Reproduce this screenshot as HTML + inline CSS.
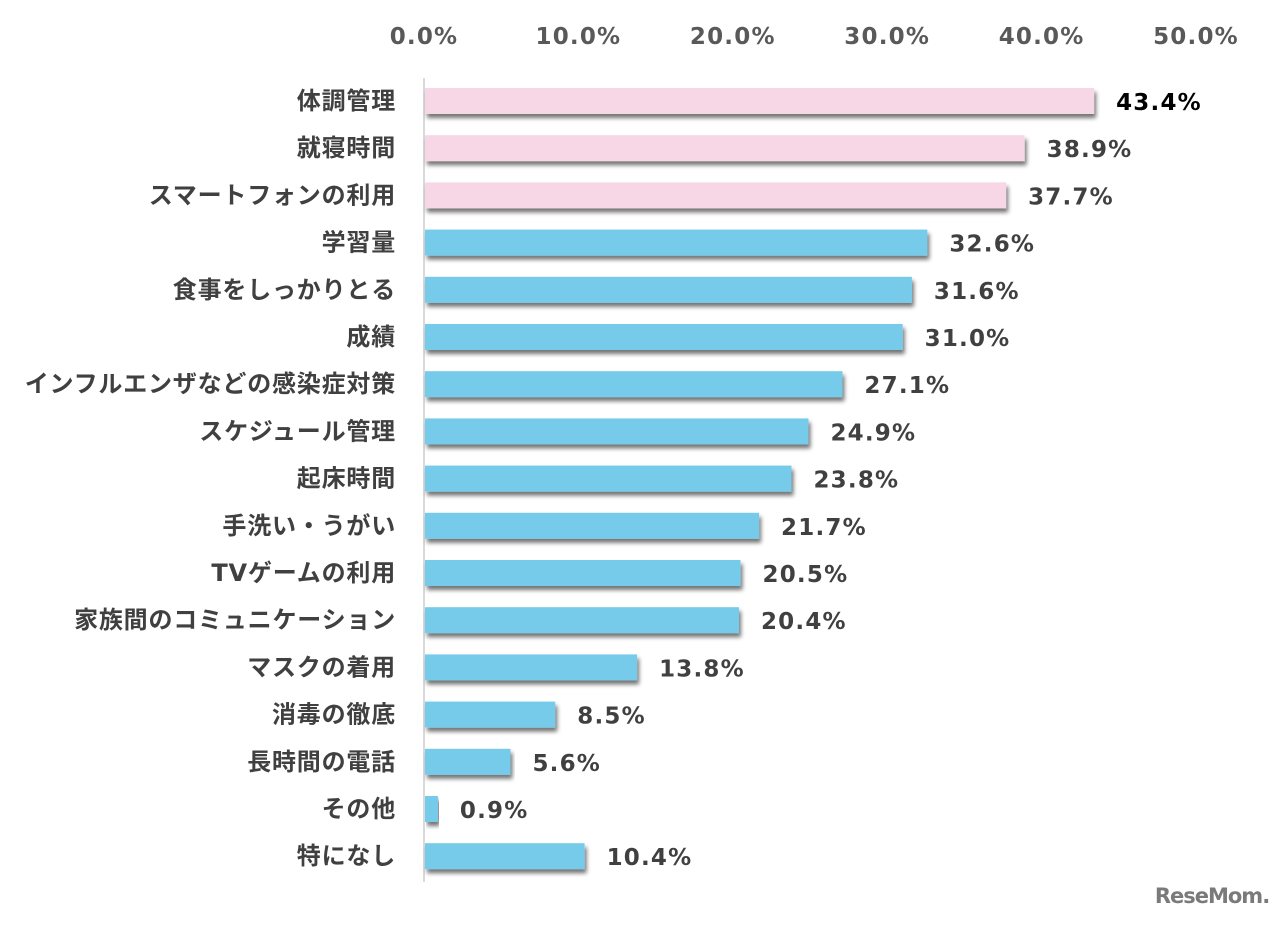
<!DOCTYPE html>
<html><head><meta charset="utf-8"><style>
body{margin:0;background:#fff;width:1280px;height:921px;overflow:hidden;font-family:"DejaVu Sans","Noto Sans CJK JP",sans-serif;}
</style></head><body>
<svg id="chart" width="1280" height="921" xmlns="http://www.w3.org/2000/svg">
<defs><filter id="sh" x="-5%" y="-50%" width="110%" height="200%"><feGaussianBlur in="SourceAlpha" stdDeviation="2"/><feOffset dx="2" dy="4"/><feComponentTransfer><feFuncA type="linear" slope="0.55"/></feComponentTransfer><feMerge><feMergeNode/><feMergeNode in="SourceGraphic"/></feMerge></filter></defs>
<g id="ticks"></g><g id="bars"></g>
<text x="1212" y="903" text-anchor="middle" font-size="21" font-weight="bold" fill="#7a7a7a" letter-spacing="-1">ReseMom.</text>
</svg>
<script>
const categories=["体調管理","就寝時間","スマートフォンの利用","学習量","食事をしっかりとる","成績","インフルエンザなどの感染症対策","スケジュール管理","起床時間","手洗い・うがい","TVゲームの利用","家族間のコミュニケーション","マスクの着用","消毒の徹底","長時間の電話","その他","特になし"];
const values=[43.4,38.9,37.7,32.6,31.6,31.0,27.1,24.9,23.8,21.7,20.5,20.4,13.8,8.5,5.6,0.9,10.4];
const highlighted=[true,true,true,false,false,false,false,false,false,false,false,false,false,false,false,false,false];
const tickValues=[0,10,20,30,40,50];
const NS="http://www.w3.org/2000/svg";
const x0=424,pxPer=15.44,y0=101,step=47.2,bh=26;
const xs=v=>x0+v*pxPer, ys=i=>y0+i*step;
const tg=document.getElementById('ticks'),bg=document.getElementById('bars');
function mk(tag,attrs,parent){const e=document.createElementNS(NS,tag);for(const k in attrs)e.setAttribute(k,attrs[k]);parent.appendChild(e);return e;}
tickValues.forEach(t=>{const e=mk('text',{x:xs(t),y:44,'text-anchor':'middle','font-size':23,'letter-spacing':1.2,'font-weight':'bold',fill:'#595959'},tg);e.textContent=t.toFixed(1)+'%';

});
const ax=mk('line',{x1:x0,x2:x0,y1:78,y2:882,stroke:'#d9d9d9','stroke-width':2},tg);


categories.forEach((c,i)=>{const y=ys(i);
const l=mk('text',{x:396,y:y+8,'text-anchor':'end','font-size':24,'letter-spacing':0.8,'font-weight':'bold',fill:'#404040'},bg);l.textContent=c;


const r=mk('rect',{x:x0+1,y:y-bh/2,width:Math.max(0,xs(values[i])-x0-1),height:bh,fill:highlighted[i]?'#f7d7e6':'#77cbea',filter:'url(#sh)'},bg);


const v=mk('text',{x:xs(values[i])+22,y:y+9,'font-size':23,'letter-spacing':1.2,'font-weight':'bold',fill:i==0?'#000':'#404040'},bg);v.textContent=values[i].toFixed(1)+'%';

});
</script>
</body></html>
